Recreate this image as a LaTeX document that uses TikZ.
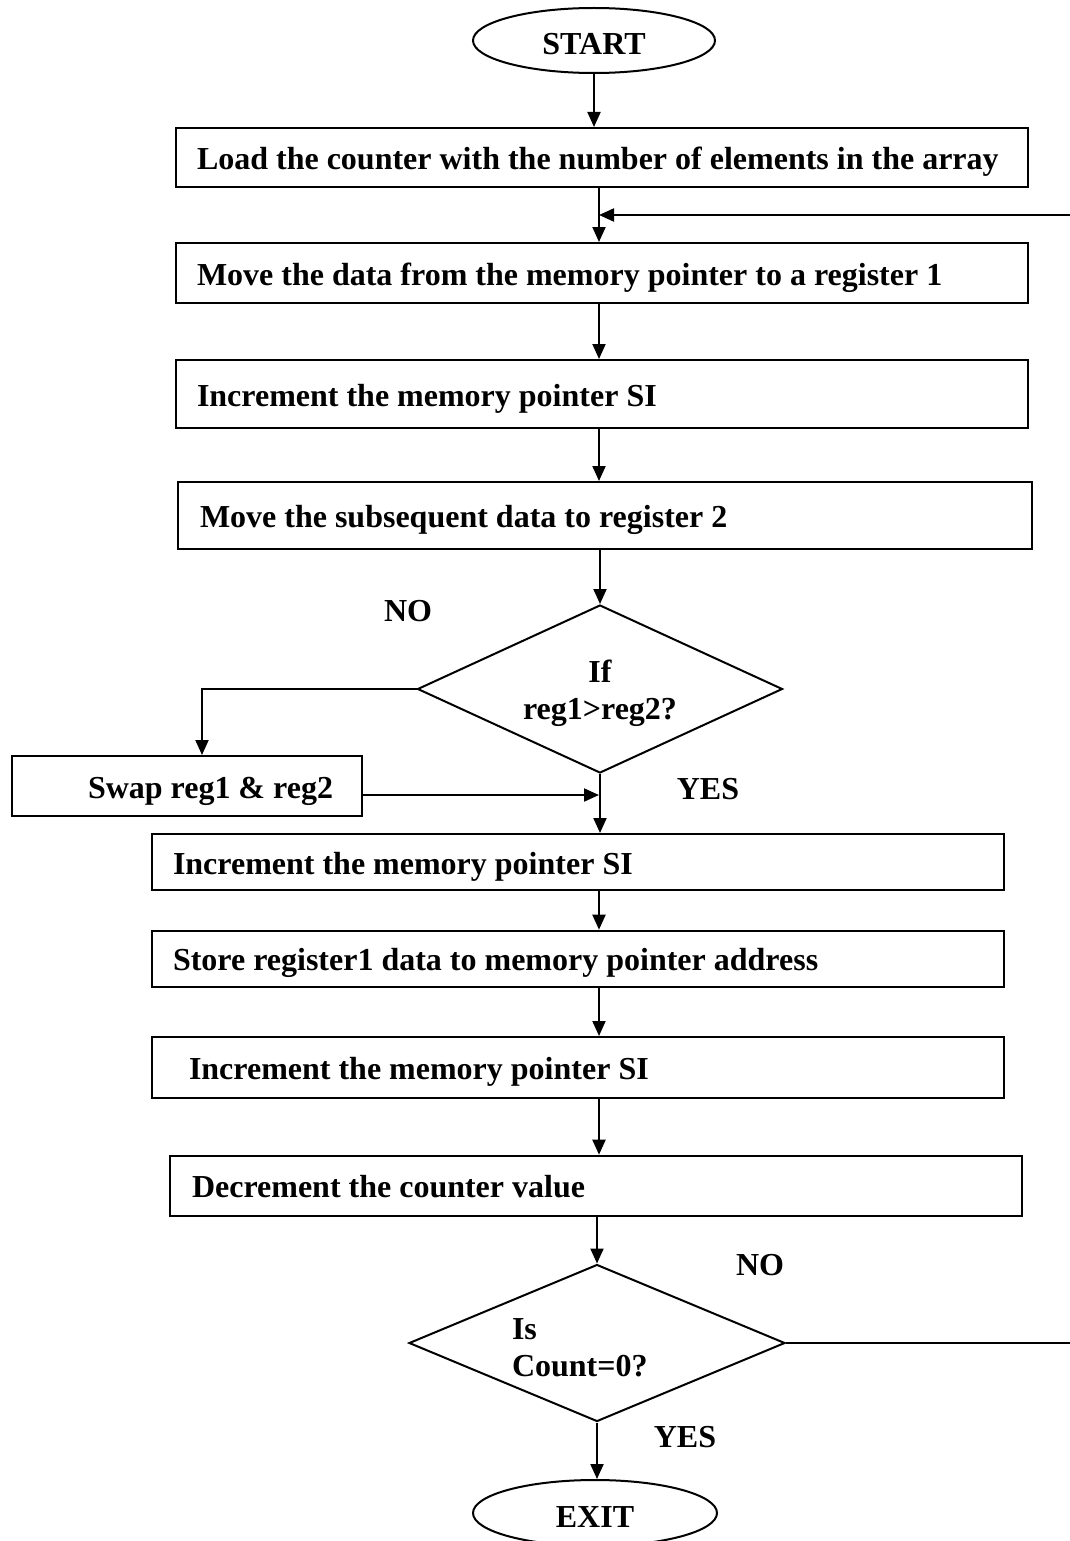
\documentclass[tikz,border=0pt]{standalone}
\usepackage{fontspec}
\setmainfont{Liberation Serif}
\usetikzlibrary{shapes.geometric,arrows.meta}

\begin{document}
\begin{tikzpicture}[x=0.5pt,y=-0.5pt,
  every node/.style={font=\fontsize{16pt}{18.5pt}\selectfont\bfseries},
  proc/.style n args={3}{draw, line width=1pt, inner xsep=0pt, inner ysep=0pt,
    text width=#1, minimum height=#2, align=left, text height=12pt, text depth=0pt,
    execute at begin node={\spaceskip=4pt\relax\hspace*{#3}}},
  term/.style={ellipse, draw, line width=1pt, inner sep=0pt, text height=14pt, text depth=0pt},
  dec/.style={diamond, draw, line width=1pt, inner sep=0pt},
  conn/.style={line width=1pt},
  arr/.style={conn, -{Triangle[length=7.5pt,width=6.5pt]}},
  lbl/.style={inner sep=0pt}
]
\useasboundingbox (0,0) rectangle (1070,1541);

% trunk reference and free ends of the loop
\coordinate (axis) at (599,0);
\coordinate (loopin) at (1070,215);
\coordinate (loopout) at (1070,1343);
\coordinate (join) at (599,795);

% terminals
\node[term, minimum width=121pt, minimum height=32.5pt] (start) at (594,40.5) {START};
\node[term, minimum width=122pt, minimum height=33pt] (exit) at (595,1513) {EXIT};

% process boxes
\node[proc={426pt}{29.5pt}{10.5pt}] (b1) at (602,157.5) {Load the counter with the number of elements in the array};
\node[proc={426pt}{30pt}{10.5pt}] (b2) at (602,273) {Move the data from the memory pointer to a register 1};
\node[proc={426pt}{34pt}{10.5pt}] (b3) at (602,394) {Increment the memory pointer SI};
\node[proc={427pt}{33.5pt}{11pt}] (b4) at (605,515.5) {Move the subsequent data to register 2};
\node[proc={175pt}{30pt}{38pt}] (swap) at (187,786) {Swap reg1 \& reg2};
\node[proc={426pt}{28pt}{10.5pt}] (b5) at (578,862) {Increment the memory pointer SI};
\node[proc={426pt}{28pt}{10.5pt}] (b6) at (578,958.7) {Store register1 data to memory pointer address};
\node[proc={426pt}{30.5pt}{18.5pt}] (b7) at (578,1067.5) {Increment the memory pointer SI};
\node[proc={426pt}{30pt}{11pt}] (b8) at (596,1185.7) {Decrement the counter value};

% decisions
\node[dec, minimum width=182.5pt, minimum height=84pt, aspect=2.17, text width=80pt, align=center,
      text height=12pt, text depth=19pt] (d1) at (600,689) {If\\reg1>reg2?};
\node[dec, minimum width=188pt, minimum height=78.5pt, aspect=2.39, text width=85pt, align=left,
      text height=12pt, text depth=16pt] (d2) at (597,1343) {Is\\Count=0?};

% branch labels
\node[lbl] (no1) at (408,611) {NO};
\node[lbl] (yes1) at (708,789) {YES};
\node[lbl] (no2) at (760,1265) {NO};
\node[lbl] (yes2) at (685,1437) {YES};

% main flow
\draw[arr] (start) -- (start |- b1.north);
\draw[arr] (b1.south -| axis) -- (b2.north -| axis);
\draw[arr] (loopin) -- (loopin -| axis);
\draw[arr] (b2.south -| axis) -- (b3.north -| axis);
\draw[arr] (b3.south -| axis) -- (b4.north -| axis);
\draw[arr] (d1.north |- b4.south) -- (d1.north);
\draw[arr] (d1.west) -| ([xshift=7.5pt]swap.north);
\draw[arr] (swap.east |- join) -- (join);
\draw[arr] (d1.south) -- (d1.south |- b5.north);
\draw[arr] (b5.south -| axis) -- (b6.north -| axis);
\draw[arr] (b6.south -| axis) -- (b7.north -| axis);
\draw[arr] (b7.south -| axis) -- (b8.north -| axis);
\draw[arr] (d2.north |- b8.south) -- (d2.north);
\draw[arr] (d2.south) -- (d2.south |- exit.north);
\draw[conn] (d2.east) -- (loopout);
\end{tikzpicture}
\end{document}
